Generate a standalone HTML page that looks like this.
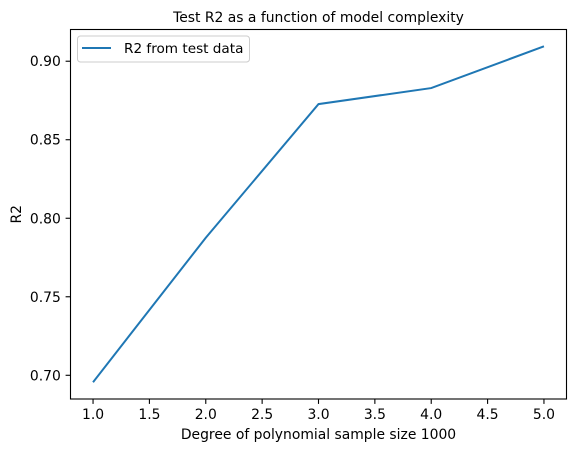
<!DOCTYPE html>
<html><head><meta charset="utf-8"><style>body{margin:0;background:#fff}svg{font-family:"DejaVu Sans","Liberation Sans",sans-serif}</style></head>
<body>
<svg id="c" width="576" height="452" xmlns="http://www.w3.org/2000/svg"></svg>
<script>
const degrees=[1,2,3,4,5];
const r2Values=[0.6956,0.7876,0.8727,0.8829,0.9095];
const xTicks=[1.0,1.5,2.0,2.5,3.0,3.5,4.0,4.5,5.0];
const yTicks=[0.70,0.75,0.80,0.85,0.90];
const L=70.5,R=566.5,T=29.5,B=399;
const x0=0.8,x1=5.2,y0=0.6849,y1=0.9202;
const sx=v=>L+(v-x0)/(x1-x0)*(R-L);
const sy=v=>B-(v-y0)/(y1-y0)*(B-T);
const svg=document.getElementById('c');
const NS='http://www.w3.org/2000/svg';
function mk(t,a,txt){const e=document.createElementNS(NS,t);for(const k in a)e.setAttribute(k,a[k]);if(txt!=null)e.textContent=txt;svg.appendChild(e);return e;}
let e;
xTicks.forEach(v=>{const x=sx(v);
e=mk('line',{x1:x,x2:x,y1:B,y2:B+4.9,stroke:'#000','stroke-width':1.1});


e=mk('text',{x:x,y:B+20,'font-size':13.9,'text-anchor':'middle'},v.toFixed(1));

});
yTicks.forEach(v=>{const y=sy(v);
e=mk('line',{x1:L-4.9,x2:L,y1:y,y2:y,stroke:'#000','stroke-width':1.1});


e=mk('text',{x:L-9.7,y:y+5,'font-size':13.9,'text-anchor':'end'},v.toFixed(2));

});
e=mk('polyline',{points:degrees.map((d,i)=>sx(d)+','+sy(r2Values[i])).join(' '),fill:'none',stroke:'#1f77b4','stroke-width':2});


e=mk('rect',{x:L,y:T,width:R-L,height:B-T,fill:'none',stroke:'#000','stroke-width':1.1});


e=mk('text',{x:(L+R)/2,y:22,'font-size':13.9,'text-anchor':'middle'},'Test R2 as a function of model complexity');


e=mk('text',{x:(L+R)/2,y:439,'font-size':13.9,'text-anchor':'middle'},'Degree of polynomial sample size 1000');


e=mk('text',{x:21,y:(T+B)/2,'font-size':13.9,'text-anchor':'middle',transform:'rotate(-90 21 '+((T+B)/2)+')'},'R2');


e=mk('rect',{x:77.5,y:36,width:172,height:26,rx:3,fill:'#fff',stroke:'#ccc','stroke-width':1});


e=mk('line',{x1:82,x2:111,y1:48,y2:48,stroke:'#1f77b4','stroke-width':2});


e=mk('text',{x:124,y:53,'font-size':13.6},'R2 from test data');


</script>
</body></html>
